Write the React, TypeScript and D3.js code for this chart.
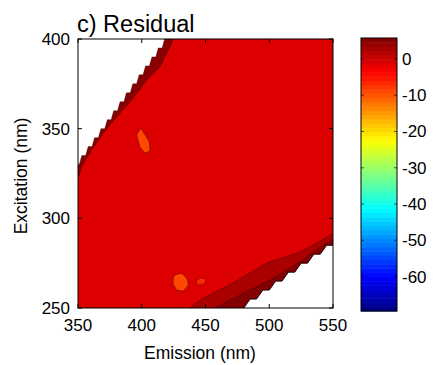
import React from 'react';
import * as d3 from 'd3';

// ---- axes / ticks ----
const emissionTicks = [350, 400, 450, 500, 550];
const excitationTicks = [250, 300, 350, 400];
const colorbarTicks = [0, -10, -20, -30, -40, -50, -60];
const emissionDomain = [350, 550];
const excitationDomain = [250, 400];
const residualDomain = [-69.5, 5.8];

// ---- residual regions (emission nm, excitation nm, residual value) ----
const baseValue = -1.0;

const ulBandEm = [350, 424.7, 420.8, 414.3, 403.9, 392.1, 380.4, 369.8, 360.7, 352.9, 350];
const ulBandEx = [400, 400, 393.9, 384.6, 377.1, 366.0, 356.7, 347.4, 338.1, 328.8, 322.5];
const ulBandValue = 5.2;

const lrBand1Em = [437.8, 445.7, 471.6, 498.2, 524.1, 537.5, 550, 560, 560];
const lrBand1Ex = [250, 254.5, 264, 275.1, 281.2, 286.2, 291.8, 292, 245];
const lrBand1Value = 2.6;

const lrBand2Em = [457.5, 477, 500.6, 524.1, 539.8, 550, 560, 560];
const lrBand2Ex = [250, 257.3, 265.6, 275.7, 284, 288, 288, 245];
const lrBand2Value = 5.5;

const blobAEm = [399.2, 396.0, 398.6, 402.5, 406.5, 405.9, 401.8];
const blobAEx = [350.2, 346.5, 339.9, 336.3, 337.7, 342.7, 347.4];
const blobAValue = -9.0;

const blobBEm = [426.1, 431.3, 435.7, 436.5, 432.6, 427.4, 424.7, 424.7];
const blobBEx = [268.4, 269.4, 266.2, 262.8, 259.5, 260.0, 263.2, 266.6];
const blobBValue = -9.0;

const blobCEm = [442.5, 445.7, 449.6, 450.4, 447.3, 443.3];
const blobCEx = [265.1, 266.7, 266.5, 264.5, 262.8, 263.1];
const blobCValue = -6.5;

// ---- masked (NaN, Rayleigh scatter) regions ----
const ulMaskEm = [340, 418, 416, 413, 411, 408, 406, 403, 401, 398, 396, 393, 391, 388, 386, 383, 381, 378, 376, 373, 371, 368, 366, 363, 361, 358, 356, 353, 351, 340];
const ulMaskEx = [410, 400, 395, 395, 390, 390, 385, 385, 380, 380, 375, 375, 370, 370, 365, 365, 360, 360, 355, 355, 350, 350, 345, 345, 340, 340, 335, 335, 330, 330];

const lrMaskEm = [480, 485, 490, 495, 500, 505, 510, 515, 520, 525, 530, 535, 540, 545, 550, 555, 560, 560, 480];
const lrMaskEx = [250, 255, 255, 260, 260, 265, 265, 270, 270, 275, 275, 280, 280, 285, 285, 290, 290, 240, 240];

function jet(t: number): string {
  const c = (v: number) => Math.round(255 * Math.max(0, Math.min(1, v)));
  const r = 1.5 - Math.abs(4 * t - 3);
  const g = 1.5 - Math.abs(4 * t - 2);
  const b = 1.5 - Math.abs(4 * t - 1);
  return `rgb(${c(r)},${c(g)},${c(b)})`;
}

const FONT = '"Liberation Sans", Arial, Helvetica, sans-serif';

export default function App() {
  const W = 437, H = 365;
  const plot = { left: 78, right: 333, top: 39, bottom: 308 };
  const x = d3.scaleLinear().domain(emissionDomain).range([plot.left, plot.right]);
  const y = d3.scaleLinear().domain(excitationDomain).range([plot.bottom, plot.top]);
  const color = d3.scaleSequential(jet).domain(residualDomain);

  const cb = { left: 361, right: 397, top: 38, bottom: 311 };
  const cbY = d3.scaleLinear().domain(residualDomain).range([cb.bottom, cb.top]);
  const nColors = 64;
  const cbLevels = d3.range(nColors).map(i => residualDomain[0] + (i / nColors) * (residualDomain[1] - residualDomain[0]));
  const step = (residualDomain[1] - residualDomain[0]) / nColors;

  const line = d3.line<[number, number]>().x(d => x(d[0])).y(d => y(d[1])).curve(d3.curveLinearClosed);
  const poly = (em: number[], ex: number[]) => line(em.map((e, i) => [e, ex[i]] as [number, number])) || '';

  const regions = [
    { em: ulBandEm, ex: ulBandEx, v: ulBandValue },
    { em: lrBand1Em, ex: lrBand1Ex, v: lrBand1Value },
    { em: lrBand2Em, ex: lrBand2Ex, v: lrBand2Value },
    { em: blobAEm, ex: blobAEx, v: blobAValue },
    { em: blobBEm, ex: blobBEx, v: blobBValue },
    { em: blobCEm, ex: blobCEx, v: blobCValue },
  ];

  const tickLen = 4;

  return (
    <svg width={W} height={H} style={{ position: 'absolute', left: 0, top: 0, background: '#fff' }} fontFamily={FONT}>
      <defs>
        <clipPath id="plotClip">
          <rect x={plot.left} y={plot.top} width={plot.right - plot.left} height={plot.bottom - plot.top} />
        </clipPath>
      </defs>
      <rect x={0} y={0} width={W} height={H} fill="#fff" />
      <g clipPath="url(#plotClip)">
        <rect x={plot.left} y={plot.top} width={plot.right - plot.left} height={plot.bottom - plot.top} fill={color(baseValue)} />
        {regions.map((r, i) => (
          <path key={i} d={poly(r.em, r.ex)} fill={color(r.v)} stroke="#000" strokeOpacity={0.55} strokeWidth={0.6} />
        ))}
        <path d={poly(ulMaskEm, ulMaskEx)} fill="#fff" stroke="#2a0000" strokeOpacity={0.6} strokeWidth={0.6} />
        <path d={poly(lrMaskEm, lrMaskEx)} fill="#fff" stroke="#1a0000" strokeWidth={1} />
      </g>
      {/* axes box */}
      <rect x={plot.left} y={plot.top} width={plot.right - plot.left} height={plot.bottom - plot.top} fill="none" stroke="#000" strokeWidth={1} />
      {emissionTicks.map(t => (
        <g key={'xt' + t}>
          <line x1={x(t)} x2={x(t)} y1={plot.bottom} y2={plot.bottom - tickLen} stroke="#000" />
          <line x1={x(t)} x2={x(t)} y1={plot.top} y2={plot.top + tickLen} stroke="#000" />
          <text x={x(t)} y={331} textAnchor="middle" fontSize={17} fill="#000">{t}</text>
        </g>
      ))}
      {excitationTicks.map(t => (
        <g key={'yt' + t}>
          <line x1={plot.left} x2={plot.left + tickLen} y1={y(t)} y2={y(t)} stroke="#000" />
          <line x1={plot.right} x2={plot.right - tickLen} y1={y(t)} y2={y(t)} stroke="#000" />
          <text x={70} y={y(t)} dy="0.35em" textAnchor="end" fontSize={17} fill="#000">{t}</text>
        </g>
      ))}
      <text x={200} y={359} textAnchor="middle" fontSize={17.5} fill="#000">Emission (nm)</text>
      <text transform={`translate(27,176) rotate(-90)`} textAnchor="middle" fontSize={17.5} fill="#000">Excitation (nm)</text>
      <text x={77} y={32} fontSize={23.5} fill="#000">c) Residual</text>

      {/* colorbar */}
      {cbLevels.map((v, i) => (
        <rect key={'cb' + i} x={cb.left} width={cb.right - cb.left} y={cbY(v + step)} height={cbY(v) - cbY(v + step) + 0.5} fill={color(v + step / 2)} />
      ))}
      <rect x={cb.left} y={cb.top} width={cb.right - cb.left} height={cb.bottom - cb.top} fill="none" stroke="#000" strokeWidth={1} />
      {colorbarTicks.map(t => (
        <g key={'ct' + t}>
          <line x1={cb.left} x2={cb.left + 3} y1={cbY(t)} y2={cbY(t)} stroke="#000" strokeOpacity={0.6} />
          <line x1={cb.right} x2={cb.right - 3} y1={cbY(t)} y2={cbY(t)} stroke="#000" strokeOpacity={0.6} />
          <text x={402} y={cbY(t)} dy="0.35em" fontSize={17} fill="#000">{t}</text>
        </g>
      ))}
    </svg>
  );
}
